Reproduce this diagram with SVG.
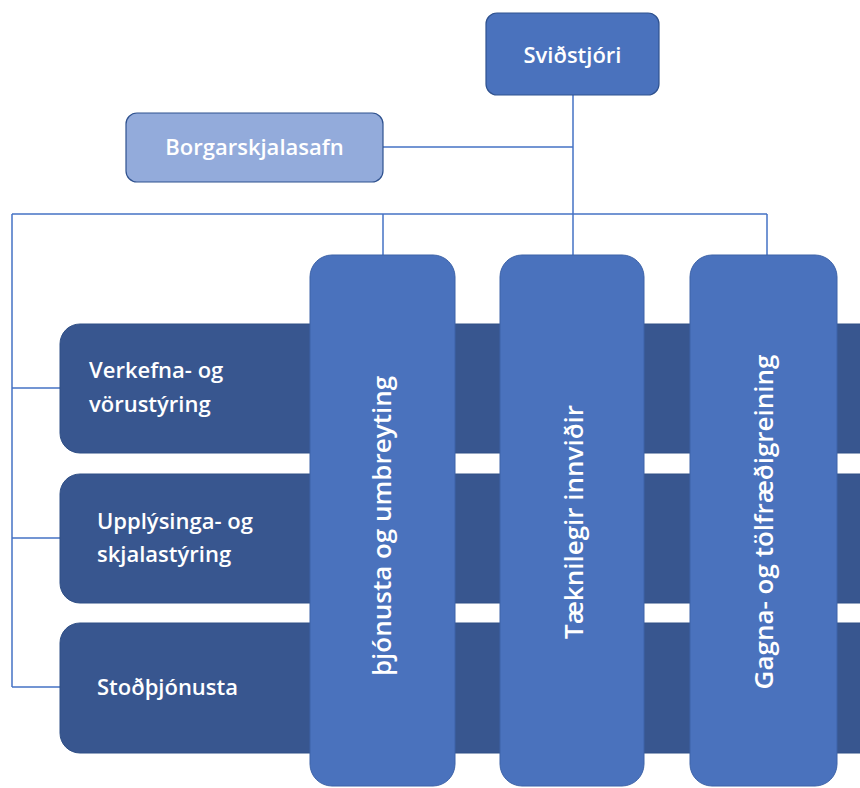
<svg xmlns="http://www.w3.org/2000/svg" width="860" height="788" viewBox="0 0 860 788">
<style>
.t{font-family:"Open Sans","Noto Sans","Liberation Sans",sans-serif;fill:#ffffff;font-size:22px;font-weight:600}
.c{font-size:26px;text-anchor:middle}
.row{fill:#38568f;stroke:#2f4f86;stroke-width:1}
.col{fill:#4a72bd;stroke:#3d63a8;stroke-width:1}
.top{fill:#4a72bd;stroke:#2f528f;stroke-width:1.2}
.lite{fill:#93abdb;stroke:#2f528f;stroke-width:1.2}
.ln{stroke:#4472c4;stroke-width:1.5;fill:none}
</style>
<rect width="860" height="788" fill="#ffffff"/>
<g id="connectors">
<path class="ln" d="M573 95 V255"/>
<path class="ln" d="M383 147 H573"/>
<path class="ln" d="M12 214 H767"/>
<path class="ln" d="M383 214 V255"/>
<path class="ln" d="M767 214 V255"/>
<path class="ln" d="M12 214 V687"/>
<path class="ln" d="M12 388 H60"/>
<path class="ln" d="M12 538 H60"/>
<path class="ln" d="M12 687 H60"/>
</g>
<g id="svidstjori">
<rect class="top" x="486" y="13" width="173" height="82" rx="11"/>
<text class="t" x="572.5" y="63" text-anchor="middle" font-size="27">Sviðstjóri</text>
</g>
<g id="borgarskjalasafn">
<rect class="lite" x="126" y="113" width="257" height="69" rx="11"/>
<text class="t" x="254.5" y="155" text-anchor="middle" font-size="21">Borgarskjalasafn</text>
</g>
<g id="row-verkefna">
<rect class="row" x="60" y="324" width="830" height="129" rx="20"/>
<text class="t" x="89" y="378">Verkefna- og</text>
<text class="t" x="89" y="412">vörustýring</text>
</g>
<g id="row-upplysinga">
<rect class="row" x="60" y="474" width="830" height="129" rx="20"/>
<text class="t" x="97" y="529">Upplýsinga- og</text>
<text class="t" x="97" y="562">skjalastýring</text>
</g>
<g id="row-stodthjonusta">
<rect class="row" x="60" y="623" width="830" height="130" rx="20"/>
<text class="t" x="97" y="695">Stoðþjónusta</text>
</g>
<g id="col-thjonusta">
<rect class="col" x="310" y="255" width="145" height="531" rx="22"/>
<text class="t c" transform="translate(391 526) rotate(-90)">þjónusta og umbreyting</text>
</g>
<g id="col-taeknilegir">
<rect class="col" x="500" y="255" width="144" height="531" rx="22"/>
<text class="t c" transform="translate(583 522) rotate(-90)">Tæknilegir innviðir</text>
</g>
<g id="col-gagna">
<rect class="col" x="690" y="255" width="147" height="531" rx="22"/>
<text class="t c" transform="translate(773 522) rotate(-90)">Gagna- og tölfræðigreining</text>
</g>
</svg>
